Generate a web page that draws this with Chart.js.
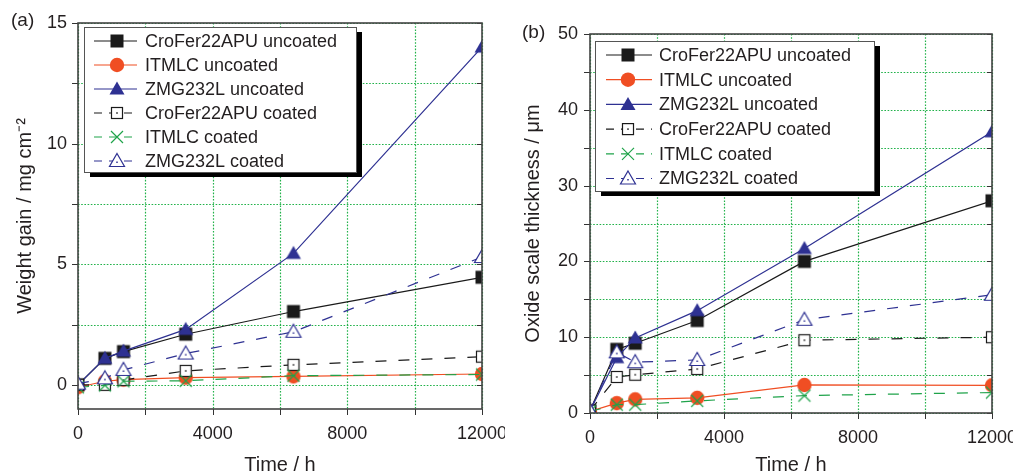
<!DOCTYPE html>
<html><head><meta charset="utf-8">
<script src="https://cdn.jsdelivr.net/npm/chart.js@4.4.0/dist/chart.umd.min.js"></script>
<style>
html,body{margin:0;padding:0;background:#fff;}
#wrap{position:relative;width:1013px;height:474px;}
.panel{position:absolute;top:0;height:474px;}
#pa{left:0;width:505px;}
#pb{left:505px;width:508px;}
</style></head><body>
<div id="wrap">
  <div class="panel" id="pa"><canvas id="chartA"></canvas></div>
  <div class="panel" id="pb"><canvas id="chartB"></canvas></div>
</div>
<script>
// exposure time, h
const timesH = [0, 800, 1350, 3200, 6400, 12000];

const seriesNames = ['CroFer22APU uncoated', 'ITMLC uncoated', 'ZMG232L uncoated',
                     'CroFer22APU coated', 'ITMLC coated', 'ZMG232L coated'];

// (a) weight gain, mg cm-2
const gainCroferUnc = [0, 1.1, 1.38, 2.1, 3.04, 4.46];
const gainItmlcUnc  = [-0.1, 0.15, 0.22, 0.3, 0.35, 0.45];
const gainZmgUnc    = [0, 1.1, 1.4, 2.3, 5.45, 14.0];
const gainCroferCo  = [0, 0, 0.2, 0.58, 0.83, 1.17];
const gainItmlcCo   = [-0.1, -0.02, 0.15, 0.17, 0.38, 0.43];
const gainZmgCo     = [0.05, 0.27, 0.62, 1.3, 2.2, 5.3];

// (b) oxide scale thickness, um
const oxCroferUnc = [0.3, 8.4, 9.2, 12.2, 20.0, 28.0];
const oxItmlcUnc  = [0.2, 1.3, 1.8, 2.0, 3.7, 3.65];
const oxZmgUnc    = [0.3, 7.3, 9.9, 13.5, 21.7, 37.1];
const oxCroferCo  = [0.3, 4.75, 5.05, 5.8, 9.6, 10.0];
const oxItmlcCo   = [0.2, 1.1, 1.1, 1.6, 2.3, 2.7];
const oxZmgCo     = [0.3, 8.0, 6.7, 7.0, 12.3, 15.6];

const xTicks = [0, 2000, 4000, 6000, 8000, 10000, 12000];
const yTicksA = [0, 2.5, 5, 7.5, 10, 12.5, 15];
const yTicksB = [0, 5, 10, 15, 20, 25, 30, 35, 40, 45, 50];

const BLACK = '#1a1a1a', ORANGE = '#f04e23', BLUE = '#2e3192', GREEN = '#1fa34a';
const GRID = '#22b24a';
const styles = [
  {kind:'sqFill',   color:BLACK,  dash:[]},
  {kind:'circFill', color:ORANGE, dash:[]},
  {kind:'triFill',  color:BLUE,   dash:[]},
  {kind:'sqOpen',   color:BLACK,  dash:[11,12]},
  {kind:'cross',    color:GREEN,  dash:[11,12]},
  {kind:'triOpen',  color:BLUE,   dash:[11,12]}
];
const FONT = "'Liberation Sans', Arial, Helvetica, sans-serif";
const TXT = '#231f20';

function drawMarker(g, kind, color, x, y) {
  g.save();
  g.setLineDash([]);
  g.lineWidth = 1.2; g.strokeStyle = color; g.fillStyle = color;
  if (kind === 'sqFill') {
    g.fillRect(x - 6.5, y - 6.5, 13, 13);
  } else if (kind === 'circFill') {
    g.beginPath(); g.arc(x, y, 7.2, 0, 2 * Math.PI); g.fill();
  } else if (kind === 'triFill' || kind === 'triOpen') {
    g.beginPath(); g.moveTo(x, y - 7.5); g.lineTo(x + 7.5, y + 5.5); g.lineTo(x - 7.5, y + 5.5); g.closePath();
    if (kind === 'triFill') g.fill();
    else { g.fillStyle = '#fff'; g.fill(); g.stroke(); g.fillStyle = color; g.fillRect(x - 0.75, y + 0.5, 1.5, 1.5); }
  } else if (kind === 'sqOpen') {
    g.fillStyle = '#fff'; g.fillRect(x - 5.5, y - 5.5, 11, 11); g.strokeRect(x - 5.5, y - 5.5, 11, 11);
    g.fillStyle = color; g.fillRect(x - 0.75, y - 0.75, 1.5, 1.5);
  } else if (kind === 'cross') {
    g.beginPath(); g.moveTo(x - 6, y - 6); g.lineTo(x + 6, y + 6); g.moveTo(x + 6, y - 6); g.lineTo(x - 6, y + 6); g.stroke();
  }
  g.restore();
}

function makeMarker(kind, color) {
  const c = document.createElement('canvas');
  c.width = 20; c.height = 20;
  drawMarker(c.getContext('2d'), kind, color, 10, 10);
  return c;
}
const markerImgs = styles.map(s => makeMarker(s.kind, s.color));

function buildDatasets(seriesList) {
  return seriesList.map((vals, i) => ({
    label: seriesNames[i],
    data: timesH.map((t, k) => ({x: t, y: vals[k]})),
    borderColor: styles[i].color,
    borderWidth: 1.2,
    borderDash: styles[i].dash,
    pointStyle: markerImgs[i],
    pointRadius: 7,
    tension: 0,
    order: 5 - i
  }));
}

const decorPlugin = {
  id: 'decor',
  beforeDatasetsDraw(chart) {
    // green dotted grid and outward tick marks
    const ctx = chart.ctx, ca = chart.chartArea;
    const xs = chart.scales.x, ys = chart.scales.y;
    ctx.save();
    ctx.strokeStyle = GRID; ctx.lineWidth = 1.2; ctx.setLineDash([1.6, 1.6]);
    ctx.beginPath();
    xs.ticks.forEach(t => {
      const px = Math.round(xs.getPixelForValue(t.value)) + 0.5;
      ctx.moveTo(px, ca.top); ctx.lineTo(px, ca.bottom);
    });
    ys.ticks.forEach(t => {
      const py = Math.round(ys.getPixelForValue(t.value)) + 0.5;
      ctx.moveTo(ca.left, py); ctx.lineTo(ca.right, py);
    });
    ctx.stroke();
    ctx.setLineDash([]); ctx.strokeStyle = '#333'; ctx.lineWidth = 1;
    ctx.beginPath();
    xs.ticks.forEach(t => {
      const px = Math.round(xs.getPixelForValue(t.value)) + 0.5;
      ctx.moveTo(px, ca.bottom); ctx.lineTo(px, ca.bottom + 6);
    });
    ys.ticks.forEach(t => {
      const py = Math.round(ys.getPixelForValue(t.value)) + 0.5;
      ctx.moveTo(ca.left - 6, py); ctx.lineTo(ca.left, py);
      ctx.moveTo(ca.right - 5, py); ctx.lineTo(ca.right, py);
    });
    ctx.stroke();
    ctx.restore();
  },
  afterDraw(chart, args, o) {
    const ctx = chart.ctx, ca = chart.chartArea;
    ctx.save();
    // frame
    ctx.strokeStyle = '#444'; ctx.lineWidth = 1.6; ctx.setLineDash([]);
    ctx.strokeRect(ca.left, ca.top, ca.right - ca.left, ca.bottom - ca.top);
    // panel label
    ctx.fillStyle = TXT; ctx.font = '19px ' + FONT;
    ctx.textBaseline = 'middle'; ctx.textAlign = 'left';
    ctx.fillText(o.label, o.labelX, o.labelY);
    // legend box with shadow
    const x0 = ca.left + o.dx, y0 = ca.top + o.dy;
    ctx.fillStyle = '#000'; ctx.fillRect(x0 + 6, y0 + 5, o.w, o.h);
    ctx.fillStyle = '#fff'; ctx.fillRect(x0, y0, o.w, o.h);
    ctx.strokeStyle = '#555'; ctx.lineWidth = 1; ctx.strokeRect(x0 + 0.5, y0 + 0.5, o.w, o.h);
    ctx.font = '18px ' + FONT;
    seriesNames.forEach((name, i) => {
      const cy = y0 + o.firstRow + i * o.rowH;
      ctx.strokeStyle = styles[i].color; ctx.lineWidth = 1.2;
      ctx.setLineDash(styles[i].dash.length ? [8, 7] : []);
      ctx.beginPath(); ctx.moveTo(x0 + o.lineX0, cy); ctx.lineTo(x0 + o.lineX1, cy); ctx.stroke();
      drawMarker(ctx, styles[i].kind, styles[i].color, x0 + o.markX, cy);
      ctx.fillStyle = TXT; ctx.setLineDash([]);
      ctx.fillText(name, x0 + o.textX, cy + 1);
    });
    ctx.restore();
  }
};

function makeChart(id, datasets, cfg) {
  return new Chart(document.getElementById(id), {
    type: 'line',
    data: {datasets},
    plugins: [decorPlugin],
    options: {
      responsive: true, maintainAspectRatio: false, animation: false,
      layout: {padding: {left: 0, right: cfg.padRight, top: cfg.padTop, bottom: 0}},
      plugins: {legend: {display: false}, tooltip: {enabled: false}, decor: cfg.decor},
      scales: {
        x: {
          type: 'linear', min: 0, max: 12000,
          afterBuildTicks: s => { s.ticks = xTicks.map(v => ({value: v})); },
          afterFit: s => { s.height = cfg.xHeight; s.paddingLeft = 0; s.paddingRight = 0; },
          grid: {display: true, drawOnChartArea: false, drawTicks: false, tickLength: 6},
          border: {display: false},
          ticks: {autoSkip: false, maxRotation: 0, padding: 14, color: TXT, font: {family: FONT, size: 18},
                  callback: v => v % 4000 === 0 ? String(v) : ''},
          title: {display: true, text: 'Time / h', color: TXT, font: {family: FONT, size: 20}, padding: {top: 0, bottom: -3}}
        },
        y: {
          type: 'linear', min: cfg.yMin, max: cfg.yMax,
          afterBuildTicks: s => { s.ticks = cfg.yTicks.map(v => ({value: v})); },
          afterFit: s => { s.width = cfg.yWidth; s.paddingTop = 0; s.paddingBottom = 0; },
          grid: {display: true, drawOnChartArea: false, drawTicks: false, tickLength: 6},
          border: {display: false},
          ticks: {autoSkip: false, padding: cfg.yPad, color: TXT, font: {family: FONT, size: 18},
                  callback: v => v % cfg.yLabelStep === 0 ? String(v) : ''},
          title: {display: true, text: cfg.yTitle, color: TXT, font: {family: FONT, size: 20}, padding: {top: cfg.yTitlePad}}
        }
      }
    }
  });
}

makeChart('chartA',
  buildDatasets([gainCroferUnc, gainItmlcUnc, gainZmgUnc, gainCroferCo, gainItmlcCo, gainZmgCo]),
  {padRight: 23, padTop: 23, xHeight: 65, yWidth: 78, yMin: -1, yMax: 15, yTicks: yTicksA,
   yLabelStep: 5, yPad: 11, yTitle: 'Weight gain / mg cm\u207B\u00B2', yTitlePad: 13,
   decor: {label: '(a)', labelX: 11, labelY: 21, dx: 6, dy: 4, w: 272, h: 145, firstRow: 14, rowH: 24,
           lineX0: 10, lineX1: 53, markX: 33, textX: 61}});

makeChart('chartB',
  buildDatasets([oxCroferUnc, oxItmlcUnc, oxZmgUnc, oxCroferCo, oxItmlcCo, oxZmgCo]),
  {padRight: 21, padTop: 34, xHeight: 61, yWidth: 85, yMin: 0, yMax: 50, yTicks: yTicksB,
   yLabelStep: 10, yPad: 12, yTitle: 'Oxide scale thickness / \u03BCm', yTitlePad: 16,
   decor: {label: '(b)', labelX: 17, labelY: 33, dx: 5, dy: 7, w: 279, h: 150, firstRow: 14, rowH: 24.7,
           lineX0: 11, lineX1: 57, markX: 33, textX: 64}});
</script>
</body></html>
